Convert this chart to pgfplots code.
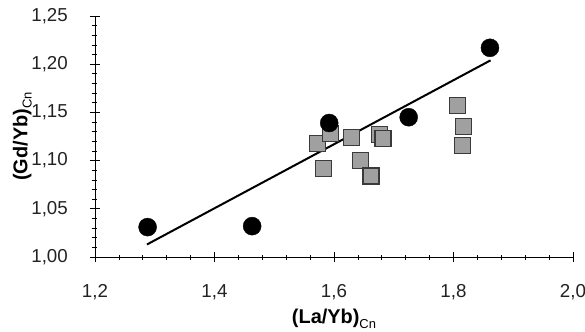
\documentclass[border=0pt]{standalone}
\usepackage{fontspec}
\setmainfont{Liberation Sans}
\usepackage{pgfplots}
\pgfplotsset{compat=1.18}
\definecolor{tickgray}{HTML}{222222}
\definecolor{sqfill}{HTML}{A0A0A0}
\definecolor{sqdraw}{HTML}{3A3A3A}
\begin{document}
\begin{tikzpicture}
\begin{axis}[
  scale only axis,
  width=478bp, height=241bp,
  xmin=1.2, xmax=2.0, ymin=1.0, ymax=1.25,
  axis lines=left,
  axis line style={-, black, line width=0.9pt},
  xtick={1.2,1.4,...,2.0},
  ytick={1.00,1.05,...,1.25},
  minor x tick num=4, minor y tick num=4,
  tick style={black, line width=0.7pt},
  major tick length=10bp, minor tick length=5bp,
  tick align=center,
  minor tick style={/pgfplots/tick align=inside},
  /pgf/number format/assume math mode=true,
  /pgf/number format/use comma,
  /pgf/number format/fixed,
  /pgf/number format/fixed zerofill,
  xticklabel style={/pgf/number format/precision=1, font=\fontsize{18.8}{22}\selectfont, text=tickgray, anchor=north, inner sep=0pt, yshift=-22bp},
  yticklabel style={/pgf/number format/precision=2, font=\fontsize{18.8}{22}\selectfont, text=tickgray, anchor=east, inner sep=0pt, xshift=-22bp},
  xlabel={\textbf{(La/Yb)}\raisebox{-0.22em}{\fontsize{13}{15}\selectfont Cn}},
  ylabel={\textbf{(Gd/Yb)}\raisebox{-0.22em}{\fontsize{13}{15}\selectfont Cn}},
  xlabel style={font=\fontsize{20}{23}\selectfont, at={(axis description cs:0.5,0)}, anchor=north, inner sep=0pt, yshift=-52bp},
  ylabel style={font=\fontsize{20}{23}\selectfont, at={(axis description cs:-0.1318,0.5)}, anchor=south, inner sep=0pt},
  clip=false,
]
\addplot[only marks, mark=square*, mark size=8bp, mark options={fill=sqfill, draw=sqdraw, line width=1.1pt}] coordinates {
(1.573,1.118) (1.594,1.128) (1.582,1.092) (1.630,1.124) (1.645,1.100)
(1.662,1.084) (1.676,1.127) (1.682,1.123) (1.807,1.157) (1.817,1.135) (1.815,1.116)
};
\addplot[only marks, mark=*, mark size=9bp, mark options={fill=black, draw=black}] coordinates {
(1.288,1.031) (1.463,1.032) (1.592,1.139) (1.725,1.145) (1.861,1.217)
};
\addplot[black, line width=2bp, no marks] coordinates {(1.287,1.013) (1.862,1.204)};
\end{axis}
\pgfresetboundingbox
\path[use as bounding box] (-95bp,-75bp) rectangle (490bp,257bp);
\end{tikzpicture}
\end{document}
